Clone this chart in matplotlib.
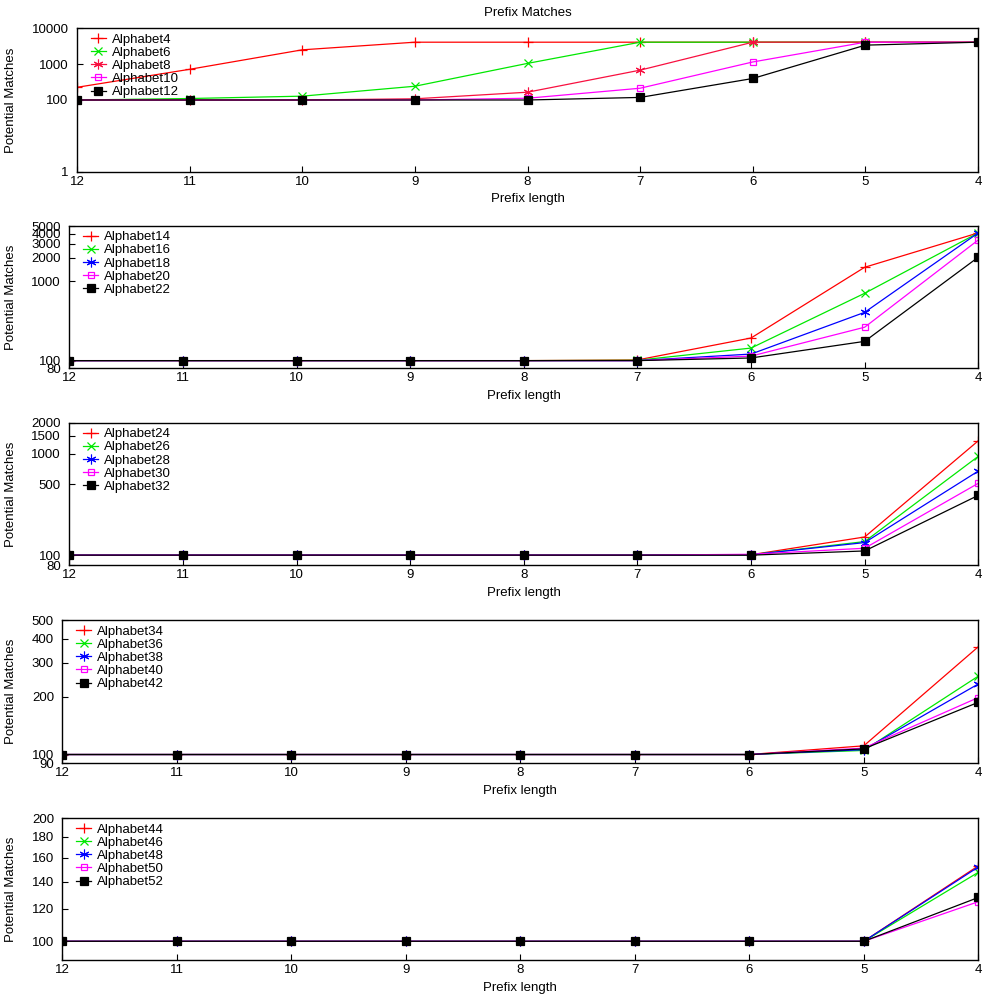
import matplotlib
matplotlib.use("Agg")
import matplotlib.pyplot as plt
import matplotlib.transforms as mtransforms

plt.rcParams['font.family'] = ['Liberation Sans', 'DejaVu Sans']
plt.rcParams['font.size'] = 9.5

# prefix lengths (x axis, reversed)
prefix = [12, 11, 10, 9, 8, 7, 6, 5, 4]

# panel 1
a4 = [226, 718, 2510, 4096, 4096, 4096, 4096, 4096, 4096]
a6 = [100, 110, 128, 242, 1050, 4096, 4096, 4096, 4096]
a8 = [100, 100, 100, 108, 165, 680, 4096, 4096, 4096]
a10 = [100, 100, 100, 100, 112, 213, 1150, 4096, 4096]
a12 = [100, 100, 100, 100, 100, 118, 398, 3390, 4096]

# panel 2
a14 = [100, 100, 100, 100, 100, 102, 193, 1507, 4096]
a16 = [100, 100, 100, 100, 100, 101, 144, 708, 4096]
a18 = [100, 100, 100, 100, 100, 100, 121, 407, 4096]
a20 = [100, 100, 100, 100, 100, 100, 114, 264, 3335]
a22 = [100, 100, 100, 100, 100, 100, 108, 175, 2020]

# panel 3
a24 = [100, 100, 100, 100, 100, 100, 101, 151, 1337]
a26 = [100, 100, 100, 100, 100, 100, 101, 136, 940]
a28 = [100, 100, 100, 100, 100, 100, 101, 133, 673]
a30 = [100, 100, 100, 100, 100, 100, 102, 117, 510]
a32 = [100, 100, 100, 100, 100, 100, 100, 110, 388]

# panel 4
a34 = [100, 100, 100, 100, 100, 100, 100, 111, 364]
a36 = [100, 100, 100, 100, 100, 100, 100, 105, 256]
a38 = [100, 100, 100, 100, 100, 100, 100, 106, 233]
a40 = [100, 100, 100, 100, 100, 100, 100, 108, 198]
a42 = [100, 100, 100, 100, 100, 100, 100, 107, 187]

# panel 5
a44 = [100, 100, 100, 100, 100, 100, 100, 100, 153]
a46 = [100, 100, 100, 100, 100, 100, 100, 100, 147.5]
a48 = [100, 100, 100, 100, 100, 100, 100, 100, 152]
a50 = [100, 100, 100, 100, 100, 100, 100, 100, 125]
a52 = [100, 100, 100, 100, 100, 100, 100, 100, 128]

panels = [
    (["Alphabet4", "Alphabet6", "Alphabet8", "Alphabet10", "Alphabet12"], [a4, a6, a8, a10, a12],
     (1, 10000), [1, 100, 1000, 10000]),
    (["Alphabet14", "Alphabet16", "Alphabet18", "Alphabet20", "Alphabet22"], [a14, a16, a18, a20, a22],
     (80, 5000), [80, 100, 1000, 2000, 3000, 4000, 5000]),
    (["Alphabet24", "Alphabet26", "Alphabet28", "Alphabet30", "Alphabet32"], [a24, a26, a28, a30, a32],
     (80, 2000), [80, 100, 500, 1000, 1500, 2000]),
    (["Alphabet34", "Alphabet36", "Alphabet38", "Alphabet40", "Alphabet42"], [a34, a36, a38, a40, a42],
     (90, 500), [90, 100, 200, 300, 400, 500]),
    (["Alphabet44", "Alphabet46", "Alphabet48", "Alphabet50", "Alphabet52"], [a44, a46, a48, a50, a52],
     (90, 200), [100, 120, 140, 160, 180, 200]),
]

# axes rectangles in pixels: left, top, right, bottom
boxes = [(77, 28.3, 978, 171.7), (69.3, 226, 978.3, 368.3), (69.3, 423, 978.3, 565),
         (62.3, 620.3, 978.3, 763.3), (62.3, 818.3, 978.3, 960)]

asterisk = (6, 2, 0)
styles = [
    dict(color='#ff0000', marker='+', ms=7.5, mew=0.9),
    dict(color='#00e800', marker='x', ms=5.5, mew=0.9),
    dict(color='#0000ff', marker=asterisk, ms=7, mew=0.8),
    dict(color='#ff00ff', marker='s', ms=5, mew=0.9, mfc='none'),
    dict(color='#000000', marker='s', ms=5.5, mew=0.9),
]

fig = plt.figure(figsize=(10, 10), dpi=100)

for i, ((names, series, ylim, yticks), (l, t, r, b)) in enumerate(zip(panels, boxes)):
    ax = fig.add_axes([l / 1000, 1 - b / 1000, (r - l) / 1000, (b - t) / 1000])
    for j, (name, vals) in enumerate(zip(names, series)):
        st = dict(styles[j])
        if i == 0 and j == 2:
            st['color'] = '#f81040'
        ax.plot(prefix, vals, lw=0.9, label=name, **st)
    ax.set_yscale('log')
    ax.set_xlim(12, 4)
    ax.set_ylim(*ylim)
    ax.set_yticks(yticks)
    ax.set_yticklabels([str(v) for v in yticks])
    ax.minorticks_off()
    ax.set_xticks(prefix)
    ax.tick_params(direction='in', length=4, width=0.8, pad=3, labelsize=9.5)
    ax.tick_params(axis='y', pad=6)
    for s in ax.spines.values():
        s.set_linewidth(1.0)
    ax.set_xlabel("Prefix length", labelpad=4)
    ax.set_ylabel("Potential Matches")
    tr = mtransforms.blended_transform_factory(fig.transFigure, ax.transAxes)
    ax.yaxis.set_label_coords(0.017, 0.5, transform=tr)
    w = r - l
    h = b - t
    ax.legend(loc='upper left', bbox_to_anchor=(14 / w, 1 - 5 / h), frameon=False,
              borderaxespad=0, borderpad=0, handlelength=1.1, handletextpad=0.5,
              labelspacing=0.07, numpoints=1, fontsize=9.5)
    if i == 0:
        ax.set_title("Prefix Matches", pad=9, fontsize=9.5)

fig.savefig("out.png", dpi=100)
